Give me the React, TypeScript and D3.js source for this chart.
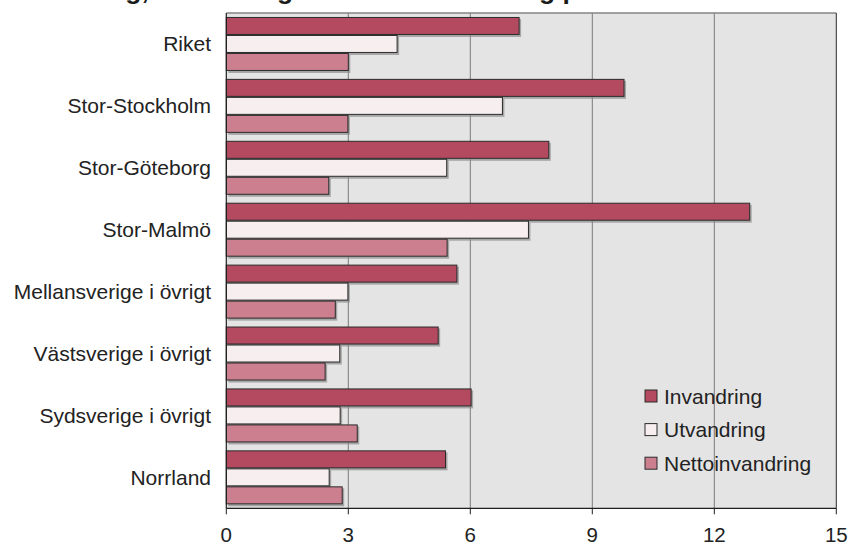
import React from "react";
import * as d3 from "d3";

const categories = [
  "Riket",
  "Stor-Stockholm",
  "Stor-Göteborg",
  "Stor-Malmö",
  "Mellansverige i övrigt",
  "Västsverige i övrigt",
  "Sydsverige i övrigt",
  "Norrland",
];
const seriesNames = ["Invandring", "Utvandring", "Nettoinvandring"];
const invandring = [7.2, 9.78, 7.93, 12.87, 5.67, 5.21, 6.02, 5.39];
const utvandring = [4.2, 6.79, 5.42, 7.43, 2.99, 2.79, 2.8, 2.53];
const nettoinvandring = [3.0, 2.99, 2.52, 5.43, 2.68, 2.43, 3.22, 2.85];
const xTicks = [0, 3, 6, 9, 12, 15];
const titleText = "Invandring, utvandring och nettoinvandring per 1 000 invånare";

const seriesValues = [invandring, utvandring, nettoinvandring];
const colors = ["#b34a60", "#f6eeef", "#cc808f"];

const W = 850;
const H = 546;
const plot = { left: 226.3, right: 836.3, top: 13, bottom: 508.3 };
const FONT = "'Liberation Sans', Arial, sans-serif";

export default function App() {
  const x = d3.scaleLinear().domain([0, 15]).range([plot.left, plot.right]);
  const y = d3
    .scaleBand<string>()
    .domain(categories)
    .range([plot.top, plot.bottom])
    .paddingInner(0.128)
    .paddingOuter(0.064);
  const ys = d3
    .scaleBand<string>()
    .domain(seriesNames)
    .range([0, y.bandwidth()])
    .padding(0);

  return (
    <svg
      width={W}
      height={H}
      style={{ position: "absolute", left: 0, top: 0, display: "block" }}
      fontFamily={FONT}
    >
      <rect x={0} y={0} width={W} height={H} fill="#ffffff" />
      <text x={6} y={-1} fontSize={26.5} fontWeight="bold" fill="#1a1a1a">
        {titleText}
      </text>
      <rect
        x={plot.left}
        y={plot.top}
        width={plot.right - plot.left}
        height={plot.bottom - plot.top}
        fill="#e4e4e4"
      />
      {xTicks
        .filter((t) => t > 0 && t < 15)
        .map((t) => (
          <line
            key={"g" + t}
            x1={x(t)}
            x2={x(t)}
            y1={plot.top}
            y2={plot.bottom}
            stroke="#7a7a7a"
            strokeWidth={1}
          />
        ))}
      <line x1={plot.left} x2={plot.right} y1={plot.top} y2={plot.top} stroke="#858585" strokeWidth={1.6} />
      <line x1={plot.right} x2={plot.right} y1={plot.top} y2={plot.bottom} stroke="#2a2a2a" strokeWidth={1} />
      {categories.map((c, ci) => (
        <g key={c}>
          {seriesNames.map((s, si) => {
            const v = seriesValues[si][ci];
            const by = (y(c) as number) + (ys(s) as number);
            const bw = x(v) - x(0);
            return (
              <rect
                key={s}
                x={x(0) + 2}
                y={by + 2}
                width={bw}
                height={ys.bandwidth()}
                fill="#8a8a8a"
                opacity={0.7}
              />
            );
          })}
          {seriesNames.map((s, si) => {
            const v = seriesValues[si][ci];
            const by = (y(c) as number) + (ys(s) as number);
            const bw = x(v) - x(0);
            return (
              <rect
                key={s}
                x={x(0)}
                y={by + 0.5}
                width={bw}
                height={ys.bandwidth() - 1}
                fill={colors[si]}
                stroke="#2b2b2b"
                strokeWidth={1}
              />
            );
          })}
        </g>
      ))}
      <line x1={plot.left} x2={plot.left} y1={plot.top} y2={plot.bottom} stroke="#1e1e1e" strokeWidth={1.2} />
      <line x1={plot.left} x2={plot.right} y1={plot.bottom} y2={plot.bottom} stroke="#1e1e1e" strokeWidth={1.2} />
      {xTicks.map((t) => (
        <g key={"t" + t}>
          <line x1={x(t)} x2={x(t)} y1={plot.bottom} y2={plot.bottom + 6} stroke="#1e1e1e" strokeWidth={1} />
          <text x={x(t)} y={541.5} textAnchor="middle" fontSize={20.5} fill="#222">
            {t}
          </text>
        </g>
      ))}
      {categories.map((c) => (
        <text
          key={"l" + c}
          x={211}
          y={(y(c) as number) + y.bandwidth() / 2}
          dy="0.35em"
          textAnchor="end"
          fontSize={21}
          fill="#222"
        >
          {c}
        </text>
      ))}
      {seriesNames.map((s, si) => {
        const cy = 396 + si * 33.6;
        return (
          <g key={"lg" + s}>
            <rect x={645} y={cy - 6} width={12} height={12} fill={colors[si]} stroke="#2b2b2b" strokeWidth={1} />
            <text x={664} y={cy + 7.5} fontSize={21} fill="#222">
              {s}
            </text>
          </g>
        );
      })}
    </svg>
  );
}
